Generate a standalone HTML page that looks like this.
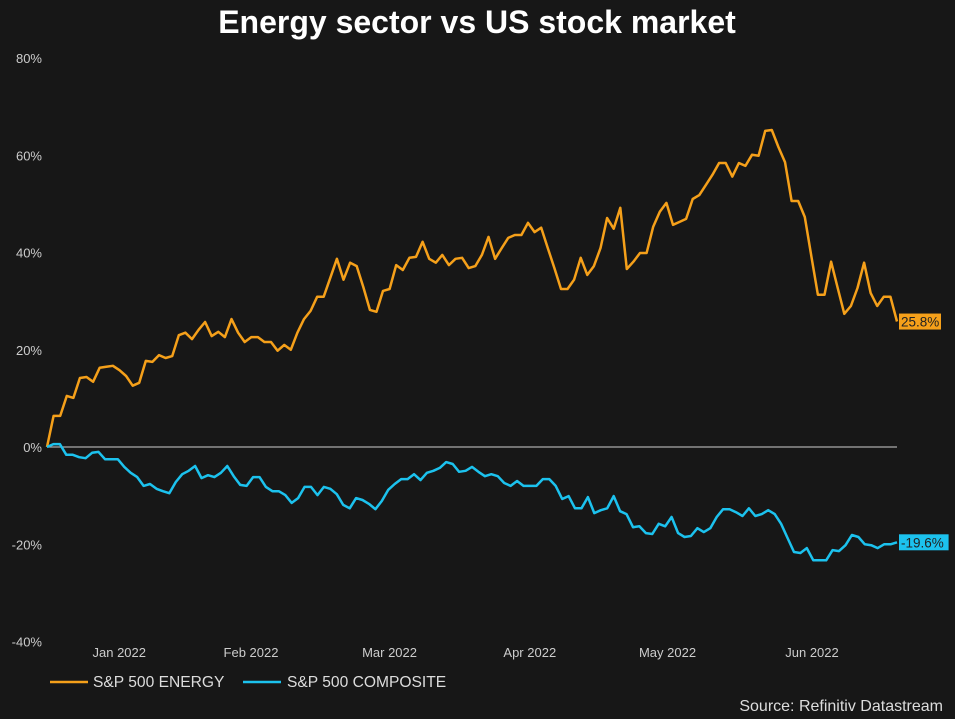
<!DOCTYPE html>
<html><head><meta charset="utf-8"><style>
body{margin:0;background:#171717;width:955px;height:719px;overflow:hidden;font-family:"Liberation Sans",sans-serif}
svg{display:block}
</style></head><body>
<svg id="chart" width="955" height="719">
<rect width="955" height="719" fill="#171717"/>
<text x="477" y="33" text-anchor="middle" fill="#fff" font-size="32" font-weight="bold">Energy sector vs US stock market</text>
<g id="yaxis"></g>
<g id="xaxis"></g>
<line x1="47" x2="897" y1="447" y2="447" stroke="#aaa" stroke-width="1.2"/>
<g id="series"></g>
<g>
<line x1="50" x2="88" y1="682" y2="682" stroke="#f5a01a" stroke-width="2.5"/>
<text x="93" y="687" fill="#ddd" font-size="15.6">S&amp;P 500 ENERGY</text>
<line x1="243" x2="281" y1="682" y2="682" stroke="#1cc2ee" stroke-width="2.5"/>
<text x="287" y="687" fill="#ddd" font-size="15.6">S&amp;P 500 COMPOSITE</text>
</g>
<text x="943" y="711" text-anchor="end" fill="#ddd" font-size="16">Source: Refinitiv Datastream</text>
</svg>
<script>
const yTicks=[80,60,40,20,0,-20,-40];
const months=["Jan 2022","Feb 2022","Mar 2022","Apr 2022","May 2022","Jun 2022"];
const monthPos=[0.085,0.24,0.403,0.568,0.73,0.9];
const energy=[0,6.4,6.4,10.5,10.1,14.2,14.4,13.4,16.3,16.5,16.7,15.8,14.6,12.6,13.2,17.7,17.5,18.9,18.3,18.7,23.0,23.5,22.2,24.1,25.7,22.8,23.7,22.6,26.3,23.5,21.6,22.6,22.6,21.6,21.6,19.8,21.0,20.0,23.5,26.3,28.0,30.9,30.9,34.8,38.7,34.4,37.9,37.2,32.9,28.2,27.8,32.1,32.5,37.4,36.4,38.9,39.1,42.2,38.7,37.9,39.5,37.4,38.7,38.9,36.8,37.2,39.5,43.2,38.7,40.9,43.0,43.6,43.6,46.1,44.2,45.1,40.9,36.8,32.5,32.5,34.4,38.9,35.4,37.2,40.9,47.1,44.9,49.2,36.6,38.1,39.9,39.9,45.3,48.4,50.2,45.7,46.3,46.9,51.0,51.8,53.9,56.0,58.4,58.4,55.6,58.4,57.8,60.1,59.9,65.0,65.2,61.7,58.6,50.6,50.6,47.3,39.3,31.3,31.3,38.1,32.7,27.4,29.0,32.7,37.9,31.7,29.0,30.9,30.9,25.8];
const composite=[0,0.6,0.6,-1.6,-1.6,-2.1,-2.3,-1.2,-1.0,-2.5,-2.5,-2.5,-4.1,-5.3,-6.2,-8.0,-7.6,-8.6,-9.1,-9.5,-7.2,-5.6,-4.9,-3.9,-6.4,-5.8,-6.2,-5.3,-3.9,-6.0,-7.8,-8.0,-6.2,-6.2,-8.2,-9.1,-9.1,-9.9,-11.5,-10.5,-8.2,-8.2,-9.9,-8.2,-8.6,-9.7,-11.9,-12.6,-10.5,-10.9,-11.7,-12.8,-11.1,-8.8,-7.6,-6.6,-6.6,-5.6,-6.8,-5.3,-4.9,-4.3,-3.1,-3.5,-5.1,-4.9,-4.1,-5.1,-6.0,-5.6,-6.0,-7.4,-8.0,-7.0,-8.0,-8.0,-8.0,-6.6,-6.6,-8.0,-10.7,-10.1,-12.6,-12.6,-10.3,-13.6,-13.0,-12.6,-10.1,-13.2,-13.8,-16.5,-16.3,-17.7,-17.9,-15.8,-16.3,-14.4,-17.7,-18.5,-18.3,-16.7,-17.5,-16.7,-14.4,-12.8,-12.8,-13.4,-14.2,-12.6,-14.2,-13.8,-13.0,-13.8,-15.8,-18.7,-21.6,-21.8,-20.8,-23.3,-23.3,-23.3,-21.2,-21.4,-20.2,-18.1,-18.5,-20.0,-20.2,-20.8,-20.0,-20.0,-19.6];
const NS="http://www.w3.org/2000/svg";
const X0=47,X1=897;
function y(v){return 447-v*(447-58)/80;}
function xi(i,n){return X0+i*(X1-X0)/(n-1);}
function mk(tag,attrs,parent){const e=document.createElementNS(NS,tag);for(const k in attrs)e.setAttribute(k,attrs[k]);parent.appendChild(e);return e;}
const ya=document.getElementById('yaxis');
yTicks.forEach(t=>{const e=mk('text',{x:42,y:y(t)+5,'text-anchor':'end',fill:'#ccc','font-size':13},ya);e.textContent=t+'%';

});
const xa=document.getElementById('xaxis');
months.forEach((m,i)=>{const e=mk('text',{x:X0+monthPos[i]*(X1-X0),y:657,'text-anchor':'middle',fill:'#ccc','font-size':13},xa);e.textContent=m;

});
const sg=document.getElementById('series');
function line(data,color,name){const p=data.map((v,i)=>(i?'L':'M')+xi(i,data.length).toFixed(1)+','+y(v).toFixed(1)).join('');
const e=mk('path',{d:p,fill:'none',stroke:color,'stroke-width':2.5,'stroke-linejoin':'round'},sg);


const last=data[data.length-1],ly=y(last);
const txt=last.toFixed(1)+'%';
const w=txt.length*7.6+4;
const r=mk('rect',{x:899,y:ly-8,width:w,height:16,fill:color},sg);


const t=mk('text',{x:901,y:ly+5,fill:'#222','font-size':13.5},sg);t.textContent=txt;

}
line(energy,'#f5a01a','energy-line');
line(composite,'#1cc2ee','composite-line');
</script>
</body></html>
